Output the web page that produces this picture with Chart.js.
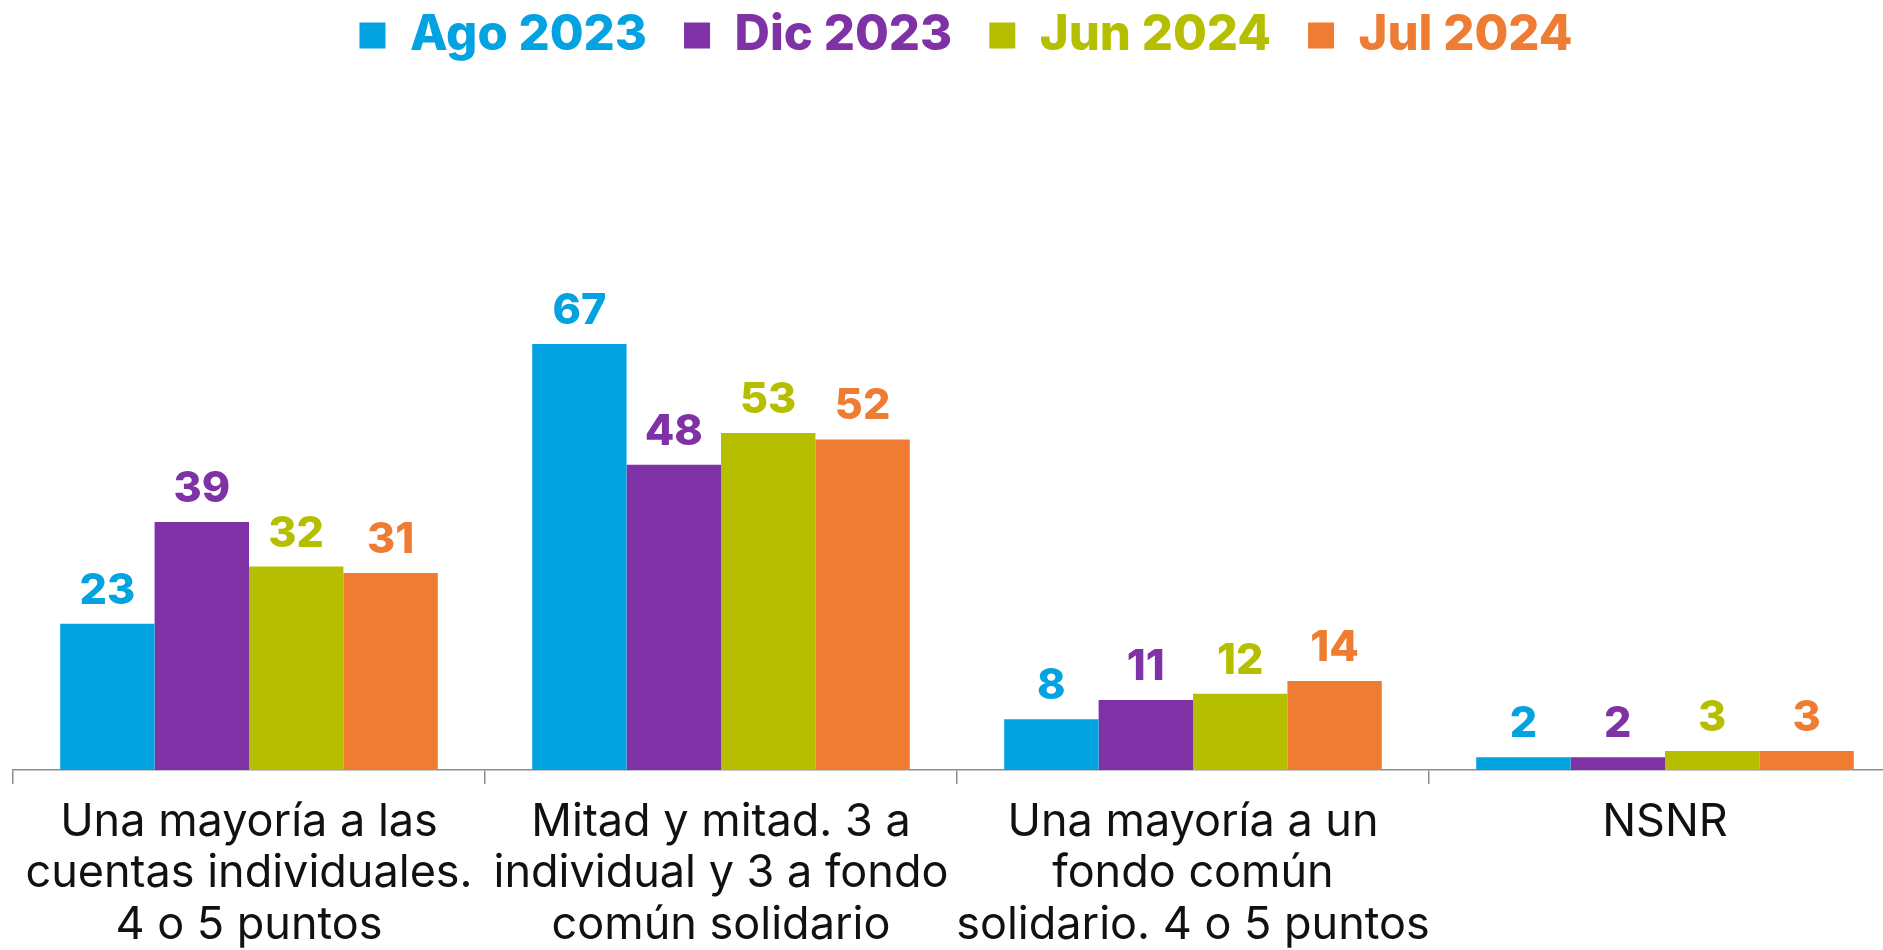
<!DOCTYPE html>
<html>
<head>
<meta charset="utf-8">
<script src="https://cdn.jsdelivr.net/npm/chart.js@4/dist/chart.umd.min.js"></script>
<style>
  html, body { margin: 0; padding: 0; background: #fff; overflow: hidden; }
  #wrap { position: relative; width: 1901px; height: 950px; }
</style>
</head>
<body>
<div id="wrap"><canvas id="chart"></canvas></div>
<script>
// categories (x labels, split in lines as in the picture)
const categories = [
  ['Una mayoría a las', 'cuentas individuales.', '4 o 5 puntos'],
  ['Mitad y mitad. 3 a', 'individual y 3 a fondo', 'común solidario'],
  ['Una mayoría a un', 'fondo común', 'solidario. 4 o 5 puntos'],
  ['NSNR']
];
const seriesNames = ['Ago 2023', 'Dic 2023', 'Jun 2024', 'Jul 2024'];
const ago2023 = [23, 67, 8, 2];
const dic2023 = [39, 48, 11, 2];
const jun2024 = [32, 53, 12, 3];
const jul2024 = [31, 52, 14, 3];
const colors = ['#02A3E0', '#7F31A6', '#B5BF00', '#EE7D33'];

// value labels above each bar
const barValues = {
  id: 'barValues',
  afterDatasetsDraw(chart) {
    const ctx = chart.ctx;
    ctx.save();
    ctx.font = '800 43px Inter';
    ctx.textAlign = 'center';
    ctx.textBaseline = 'alphabetic';
    chart.data.datasets.forEach((ds, i) => {
      const meta = chart.getDatasetMeta(i);
      ctx.fillStyle = colors[i];
      meta.data.forEach((bar, j) => {
        ctx.fillText(String(ds.data[j]), bar.x, bar.y - 20);
      });
    });
    ctx.restore();
  }
};

// nudge the legend a little to the right, like the original
const legendShift = {
  id: 'legendShift',
  afterLayout(chart) {
    if (!chart.legend) return;
    chart.legend.left += 9;
    chart.legend.right += 9;
  }
};

const allSeries = [ago2023, dic2023, jun2024, jul2024];

new Chart(document.getElementById('chart'), {
  type: 'bar',
  data: {
    labels: categories,
    datasets: allSeries.map((vals, i) => ({
      label: seriesNames[i],
      data: vals,
      backgroundColor: colors[i],
      borderWidth: 0,
      categoryPercentage: 0.8,
      barPercentage: 1.0
    }))
  },
  options: {
    responsive: true,
    maintainAspectRatio: false,
    animation: false,
    layout: { padding: { left: 13, right: 0, top: -26, bottom: 0 } },
    plugins: {
      tooltip: { enabled: false },
      legend: {
        position: 'top',
        labels: {
          boxWidth: 26,
          boxHeight: 26,
          padding: 37,
          font: { family: 'Inter', weight: '800', size: 49 },
          generateLabels(chart) {
            const items = Chart.defaults.plugins.legend.labels.generateLabels(chart);
            items.forEach((it, i) => { it.fontColor = colors[i]; it.lineWidth = 0; });
            return items;
          }
        }
      }
    },
    scales: {
      x: {
        grid: { offset: true, drawOnChartArea: false, color: '#8c8c8c', tickLength: 14, lineWidth: 1.5 },
        border: { color: '#8c8c8c', width: 1.5 },
        ticks: {
          color: '#111',
          maxRotation: 0,
          autoSkip: false,
          padding: 12,
          font: { family: 'Inter', size: 45, lineHeight: 1.155 }
        },
        afterFit(scale) { scale.height = 180; }
      },
      y: {
        display: false,
        min: 0,
        max: 110.1
      }
    }
  },
  plugins: [barValues, legendShift]
});
</script>
</body>
</html>
